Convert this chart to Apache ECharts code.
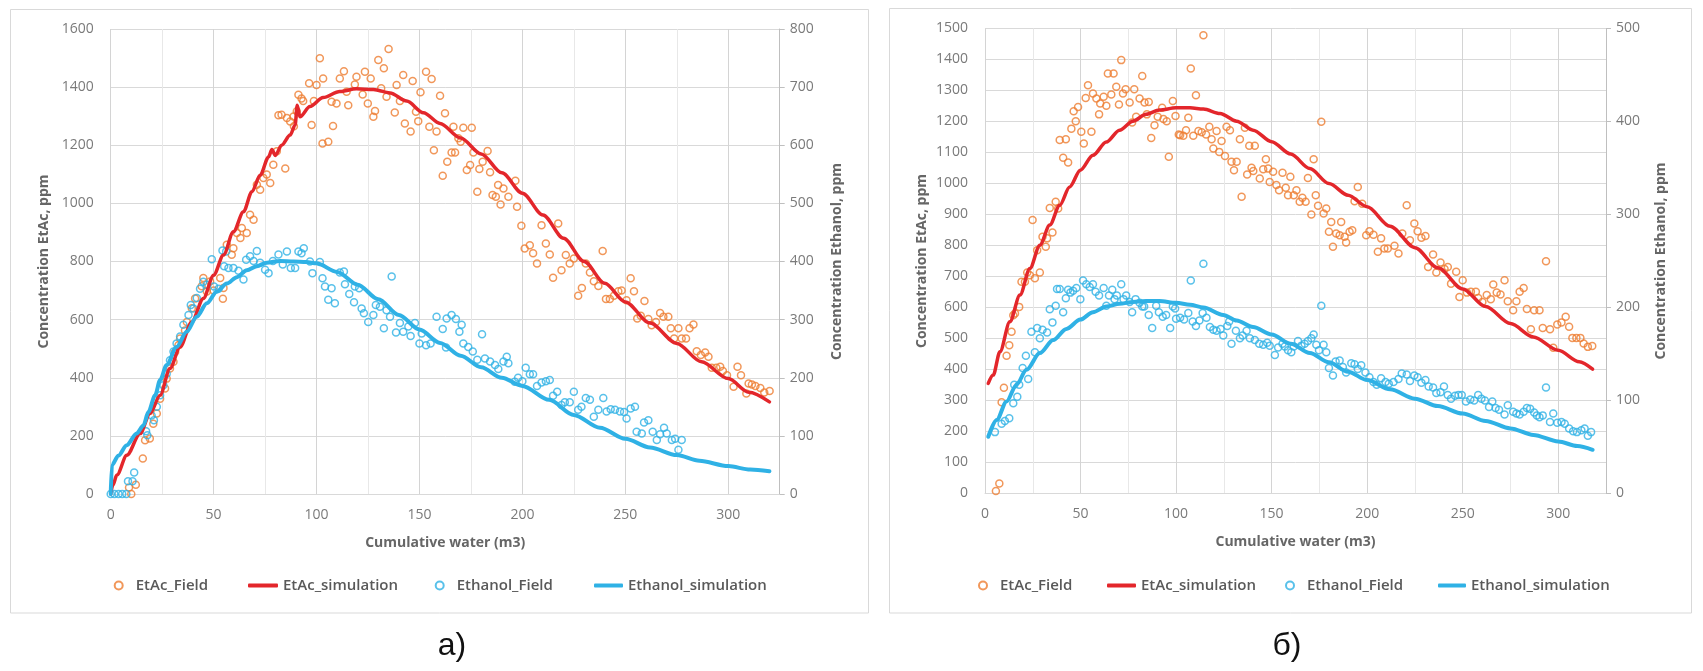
<!DOCTYPE html>
<html>
<head>
<meta charset="utf-8">
<script src="https://cdn.jsdelivr.net/npm/echarts@6/dist/echarts.min.js"></script>
<style>
  html, body { margin: 0; padding: 0; background: #fff; }
  #chart { width: 1703px; height: 671px; }
</style>
</head>
<body>
<div id="chart"></div>
<script>
// ── data: [cumulative water m3, concentration ppm] ──
// panel а: EtAc on left axis (0-1600), Ethanol on right axis (0-800)
var etacFieldA = [
  [10,0],[8.9,22],[12.2,32],[15.6,122],[16.7,185],[19,191],[20.7,242],[22.4,277],[24,328],[26.4,363],[27.2,397],
  [28.8,432],[30.5,455],[31.3,489],[32.9,512],[33.7,535],[36.1,563],[37,592],[39.4,639],[41,673],[44.2,715],
  [45,743],[46.7,697],[48.3,731],[50,700],[53.2,743],[54.5,672],[54.8,709],[56.4,858],[58.8,823],[59.6,846],
  [61.3,898],[63,881],[63.7,915],[66.1,898],[67.7,961],[69.4,944],[71,1064],[72.6,1047],[74.2,1087],[75.8,1099],
  [77.5,1070],[79,1133],[80.7,1179],[81.5,1303],[83,1305],[84.8,1120],[85.6,1294],[87.2,1282],[88.8,1299],
  [90.4,1317],[91.2,1374],[89,1265],[92.7,1361],[93.5,1352],[96.4,1413],[97.6,1270],[98.7,1352],[100,1407],
  [101.6,1499],[102.9,1206],[103.2,1430],[105.7,1212],[107.3,1350],[108,1266],[109.7,1344],[111.3,1430],
  [113.3,1455],[114.6,1384],[115.4,1338],[118.6,1409],[119.4,1436],[122.4,1375],[123.5,1453],[124.9,1344],
  [126.3,1430],[127.6,1298],[128.4,1318],[130,1493],[131.4,1396],[132.7,1465],[134,1367],[135,1531],[138,1313],
  [138.9,1407],[140.5,1352],[142.1,1442],[142.9,1275],[145.7,1247],[146.7,1421],[148.3,1315],[149.4,1283],
  [150.5,1382],[153.2,1453],[154.8,1264],[155.9,1428],[157,1183],[158.3,1247],[160,1370],[161.3,1095],
  [162.4,1310],[163.5,1143],[165.6,1175],[166.5,1264],[167.3,1175],[168.9,1224],[170,1212],[171.3,1260],
  [173,1115],[174.6,1132],[175.4,1260],[176.2,1175],[178.1,1040],[179.1,1118],[180.7,1143],[183.1,1180],
  [184.3,1107],[185.5,1029],[187.1,1023],[188.2,1063],[189.4,996],[190.8,1051],[193.2,1023],[196.6,1078],
  [197.4,988],[199.5,923],[201.1,845],[203.6,856],[205.2,828],[207.1,793],[209.3,925],[211.4,862],[213.3,824],
  [214.9,744],[217.4,931],[219,770],[221.1,822],[223,793],[225,810],[227.1,682],[228.9,709],[230.8,793],
  [232.8,762],[234.7,732],[236.9,716],[239,836],[240.6,671],[242.5,671],[244.5,682],[246.6,698],[248.2,700],
  [250.6,667],[252.6,742],[254.2,698],[255.8,604],[257.5,613],[259.3,664],[261.2,602],[262.8,581],[264.9,592],
  [266.9,623],[268.5,610],[270.9,610],[272.1,570],[273.7,535],[275.8,570],[277.4,535],[279.5,535],[281.2,570],
  [283.1,583],[284.7,491],[286.7,478],[288.8,487],[290.4,472],[292,434],[294.2,434],[296.1,438],[297.4,423],
  [299.4,409],[302.6,369],[304.5,438],[306.2,409],[308.8,346],[309.9,380],[311.5,377],[313.2,372],[315.6,365],
  [317.5,349],[320.1,354]
];
var etacSimA = [
  [0,0],[1,30],[3,65],[7.8,133],[14.3,208],[19.1,277],[24,340],[28.8,432],[33.7,506],[39.4,592],[45,673],
  [50,753],[54.8,822],[59.6,902],[64.5,971],[68.6,1040],[72.6,1097],[76.7,1160],[78.3,1185],[80,1165],
  [83,1200],[87.2,1235],[89.6,1270],[90.6,1338],[91.9,1298],[96.8,1333],[103.2,1364],[111.3,1385],
  [119.4,1394],[127.6,1392],[135.7,1380],[143.8,1352],[151.9,1312],[160,1275],[170,1225],[180,1170],
  [190,1105],[200,1035],[210,960],[220,880],[230,800],[240,725],[250,661],[262,588],[275,518],[287,455],
  [300,397],[310,350],[320,317]
];
var ethFieldA = [
  [0,0],[1.8,0],[3.8,0],[5.6,0],[7.6,0],[8.4,22],[10.6,22],[11.4,37],[17.2,108],[17.8,101],[19.9,135],
  [21,127],[22.4,150],[24,170],[25.6,187],[27.2,207],[28.8,230],[30.5,245],[32,259],[33.7,271],[35.3,291],
  [37.8,308],[38.9,325],[40.2,319],[41.8,337],[43.4,353],[45,365],[46.7,360],[49.1,404],[50.2,357],[52.4,353],
  [54.3,419],[55.1,392],[56.1,417],[57.2,389],[59.6,389],[62.1,384],[64.5,369],[65.8,403],[67.7,409],
  [69.4,401],[71,418],[72.6,398],[75,386],[76.7,380],[78.8,401],[81.5,412],[83.6,395],[85.6,417],[87.5,389],
  [89.6,389],[91.2,417],[92.7,414],[93.8,423],[96.8,400],[98,380],[101.6,399],[102.9,371],[104.1,357],
  [105.7,334],[107.3,354],[108.9,328],[111.3,381],[113.3,383],[113.8,361],[115.9,344],[118.2,330],[118.6,357],
  [120.7,354],[121.9,319],[123,311],[125.1,296],[127.6,308],[128.8,325],[130.8,322],[132.7,285],[134,316],
  [135.7,305],[136.5,374],[138.6,278],[140.5,294],[142.1,279],[144.6,288],[145.7,272],[147.8,294],[150,259],
  [151.1,276],[153.2,256],[155.4,259],[158.3,305],[161.3,284],[162.9,252],[163.2,302],[165.6,308],[167.7,301],
  [169.4,279],[170.5,291],[171.3,259],[173.7,253],[175.9,245],[178.1,231],[180.4,275],[181.8,233],[184.3,228],
  [186.7,222],[188.3,215],[190.8,228],[192.4,236],[193.2,225],[196.3,193],[197.9,200],[200,194],[201.6,217],
  [203.6,206],[205.2,206],[207.1,186],[209.3,192],[211.4,194],[213.3,196],[214.9,169],[216.9,176],[219,153],
  [220.6,158],[223,158],[225,176],[227.1,145],[228.7,150],[230.8,165],[232.8,162],[234.7,133],[236.9,145],
  [239.3,165],[240.9,142],[242.9,146],[245,145],[247.4,142],[249.4,141],[250.6,130],[252.6,147],[254.7,150],
  [255.5,107],[258,104],[259.1,123],[261.2,127],[263.3,107],[265.3,93],[266.9,103],[268.8,114],[270.1,104],
  [272.6,93],[274.2,95],[275.8,76],[277.4,93]
];
var ethSimA = [
  [0,0],[0.6,50],[3.7,66],[7.8,84],[12.6,104],[15.9,118],[18.3,141],[21.6,170],[24,196],[27.2,222],[32,253],
  [36.9,279],[41.8,305],[46.7,328],[51.5,348],[56.4,362],[61.3,373],[66.1,385],[71,392],[75.8,398],[82.3,401],
  [88.8,400],[95,399],[100,397],[110,382],[120,360],[130,335],[140,308],[150,283],[160,260],[170,238],
  [180,218],[190,200],[200,186],[213,162],[225,136],[237.7,114],[250,95],[262,80],[275,67],[286,57],[300,48],
  [310.7,42],[320,39]
];

// panel б: EtAc on left axis (0-1500), Ethanol on right axis (0-500)
var etacFieldB = [
  [5.7,8],[7.5,32],[8.7,294],[9.9,341],[11.3,444],[12.7,478],[13.9,522],[14.8,575],[15.7,581],[17.9,602],
  [19.1,683],[20.9,683],[22.1,713],[23.5,704],[24.9,882],[26.1,694],[27.3,785],[28.7,713],[30.1,828],
  [31.8,796],[32.5,823],[33.9,921],[35.3,842],[37,941],[38.3,919],[39.1,1140],[40.9,1083],[42.3,1143],
  [43.5,1068],[45.2,1177],[46.4,1233],[47.5,1201],[48.7,1247],[50.4,1167],[51.7,1129],[52.7,1276],[53.9,1317],
  [55.7,1167],[56.5,1290],[58.3,1274],[59.7,1223],[60.3,1258],[62.1,1280],[63.5,1251],[64.3,1355],[66.1,1287],
  [67.3,1355],[68.7,1312],[70.1,1255],[71.3,1398],[72.2,1290],[73.6,1304],[75.7,1261],[77,1197],[78.1,1304],
  [79.1,1215],[80.9,1274],[82.3,1347],[83.5,1261],[84.7,1223],[85.7,1263],[87,1147],[88.7,1188],[90.4,1215],
  [92.7,1244],[93.4,1208],[95.1,1201],[96.2,1086],[98.3,1266],[99.7,1218],[101.4,1158],[102.1,1156],
  [103.8,1154],[105.2,1172],[106.4,1212],[107.7,1371],[109,1154],[110.4,1285],[111.7,1169],[113.4,1165],
  [114.3,1478],[115.7,1158],[117.4,1183],[118.6,1143],[119.5,1113],[121.2,1169],[122.6,1102],[123.8,1137],
  [125.6,1089],[126.4,1183],[128.2,1172],[129,1070],[130.3,1043],[131.7,1070],[133.4,1143],[134.3,957],
  [136,1180],[137.2,1029],[138.3,1122],[139.5,1051],[140.4,1040],[141.2,1122],[143.8,1016],[145.6,1046],
  [147,1078],[148.2,1048],[149,1005],[150.8,1038],[152.5,995],[153.9,978],[155.7,1035],[157.4,986],[158.6,962],
  [159.8,1022],[161.6,962],[163,978],[164.7,941],[166.1,954],[167.8,941],[169,1018],[170.8,900],[172,1078],
  [173.1,962],[174.3,928],[176,1199],[177.2,903],[178.6,919],[180,844],[181.2,876],[182.1,796],[183.8,839],
  [185.6,833],[186.4,876],[188.2,828],[189,810],[190.8,844],[192.2,849],[193.4,943],[195.1,989],[197.4,935],
  [199.5,833],[201.2,846],[203.3,835],[205.6,780],[207.3,823],[209,790],[210.8,790],[214.3,799],[216.4,774],
  [218.4,839],[220.7,930],[222.4,817],[224.7,871],[226.4,846],[228.4,825],[230.5,831],[231.9,731],[234.5,771],
  [236.2,713],[238.4,745],[240.5,724],[242.2,731],[243.9,677],[246.6,715],[248.3,634],[250,688],[252.2,648],
  [254.3,651],[256.9,651],[258.1,631],[260.3,618],[262.6,640],[264.7,627],[266,674],[267.8,648],[269.8,642],
  [271.9,688],[273.6,620],[276.4,591],[278.1,620],[279.8,651],[281.9,663],[283.6,595],[285.7,530],[287.4,591],
  [290.2,591],[291.9,534],[293.6,749],[295.7,530],[297.4,470],[299.5,545],[301.7,552],[303.9,570],[305.7,538],
  [307.4,502],[309.5,502],[311.6,502],[313.3,484],[315.5,473],[317.8,476]
];
var etacSimB = [
  [1.7,355],[4.3,382],[7.8,457],[13,554],[18.3,640],[23.5,726],[28.7,801],[33.9,866],[39.1,930],[44.3,989],
  [49.9,1043],[56.5,1091],[63.5,1134],[70.4,1172],[77.4,1201],[84.3,1223],[91.3,1237],[100,1244],[107.3,1244],
  [114.3,1240],[123,1226],[131.7,1201],[140.3,1172],[150,1135],[160,1095],[170,1048],[180,1000],[190,962],
  [200,925],[212,862],[225,793],[237,728],[250,660],[262,603],[275,548],[287,505],[300,462],[311,425],[318,401]
];
var ethFieldB = [
  [5.2,66],[8.7,75],[10.4,78],[12.7,81],[14.8,97],[16.9,104],[15.3,117],[17.9,117],[19.7,135],[21.4,148],
  [22.6,123],[24.3,174],[26.1,152],[27.3,178],[28.7,167],[30.1,176],[32.5,173],[33.9,198],[35.3,184],[37,202],
  [37.7,220],[39.1,220],[40.9,195],[42.3,210],[43.5,219],[44.7,216],[46.1,218],[47.8,221],[49.9,209],[51.3,229],
  [53,225],[54.8,222],[56.5,225],[57.9,217],[59.7,213],[62.1,221],[63.5,202],[64.9,213],[66.6,219],[67.8,209],
  [69,213],[71.3,225],[72.5,209],[73.9,213],[75.7,206],[77,195],[78.8,209],[80.9,205],[82.3,201],[83.3,201],
  [85.7,192],[87.5,178],[89.6,202],[91,195],[93,190],[94.8,192],[96.9,178],[98.3,201],[99.5,199],[100,188],
  [102.1,189],[104.2,187],[106.4,194],[107.7,229],[108.7,185],[110.4,180],[112.2,186],[113.9,194],[114.3,247],
  [115.9,189],[117.7,179],[119.5,176],[121.2,175],[123.3,177],[124.7,170],[126.8,180],[127.8,185],[129,161],
  [131.3,175],[133.4,167],[134.8,170],[136.9,175],[138.6,167],[141.2,165],[143.5,161],[145.6,160],[147.7,162],
  [149,159],[151.7,149],[153.4,157],[155.7,161],[156.9,158],[158.6,154],[160.3,152],[161.6,158],[163.8,164],
  [165.6,159],[167.3,161],[169,164],[170.8,167],[172,171],[173.4,160],[174.8,154],[176,202],[177.2,160],
  [178.6,152],[180,135],[182.1,127],[183.5,142],[185.6,143],[187.3,136],[189,130],[191.7,140],[193.4,139],
  [195.1,134],[196.9,138],[199.1,130],[201.2,125],[203.3,120],[205,117],[207.3,124],[209.6,120],[211.3,118],
  [213.8,120],[216.4,123],[218.1,129],[220.7,128],[222.4,121],[224.7,127],[226.4,125],[228.4,119],[230.5,122],
  [232.2,115],[234.5,114],[236.2,108],[238.4,109],[240.2,115],[242.2,106],[243.9,102],[246,105],[247.8,106],
  [249.5,106],[251.7,99],[254,101],[256,100],[258.1,106],[259.8,102],[261.6,100],[263.8,93],[265.5,99],
  [267.2,92],[269,90],[271.9,85],[273.6,95],[276.4,88],[278.1,86],[279.8,85],[281.9,88],[283.6,92],[285.3,91],
  [287.4,87],[288.8,84],[290.2,82],[291.9,84],[293.6,114],[295.7,77],[297.4,86],[299.5,76],[301.7,77],
  [303.4,75],[305.7,70],[307.8,67],[309.8,66],[312.1,68],[313.8,70],[315.5,62],[317.2,66]
];
var ethSimB = [
  [1.7,61],[6.1,79],[11.3,99],[16.5,117],[21.7,133],[28.7,151],[35.7,165],[42.6,177],[49.9,187],[56.5,195],
  [63.5,201],[70.4,204],[77.4,206],[84.3,207],[91.3,207],[100,205],[107.3,203],[114.3,200],[124.7,192],
  [131.7,186],[140.3,179],[150,171],[160,161],[170,151],[180,141],[190,131],[200,122],[212,112],[225,102],
  [237,94],[250,86],[262,78],[275,70],[287,63],[300,56],[310,51],[318,47]
];

// axis ranges [min, max, step]
var xRange = [0, 325, 25];
var leftRangeA = [0, 1600, 200];
var rightRangeA = [0, 800, 100];
var leftRangeB = [0, 1500, 100];
var rightRangeB = [0, 500, 100];

var names = ['EtAc_Field', 'EtAc_simulation', 'Ethanol_Field', 'Ethanol_simulation'];
var panelLabels = ['а)', 'б)'];
var xTitle = 'Cumulative water (m3)';
var leftTitle = 'Concentration EtAc, ppm';
var rightTitle = 'Concentration Ethanol, ppm';

(function() {
  var orange = '#ED7D31';
  var red = '#E3262B';
  var blue = '#2FB1E5';
  var grid = '#D9D9D9';
  var tickColor = '#7A7A7A';
  var titleColor = '#666666';
  var font = '"Open Sans", sans-serif';
  var plain = function(v) { return String(v); };

  var chart = echarts.init(document.getElementById('chart'), null, { renderer: 'canvas' });

  function xAxis(gi) {
    return {
      gridIndex: gi, type: 'value',
      min: xRange[0], max: xRange[1], interval: xRange[2],
      name: xTitle, nameLocation: 'middle', nameGap: 42,
      nameTextStyle: { color: titleColor, fontSize: 14, fontWeight: 'bold', fontFamily: font },
      axisLine: { show: true, lineStyle: { color: grid } },
      axisTick: { show: false },
      axisLabel: {
        color: tickColor, fontSize: 14, fontFamily: font, margin: 14,
        formatter: function(v) { return v % 50 === 0 ? String(v) : ''; }
      },
      splitLine: { show: true, lineStyle: { color: ['#D4D4D4', '#E8E8E8'], width: 1 } }
    };
  }

  function leftAxis(gi, r, gap) {
    return {
      gridIndex: gi, type: 'value', position: 'left',
      min: r[0], max: r[1], interval: r[2],
      name: leftTitle, nameLocation: 'middle', nameGap: gap,
      nameTextStyle: { color: titleColor, fontSize: 14, fontWeight: 'bold', fontFamily: font },
      axisLine: { show: false }, axisTick: { show: false },
      axisLabel: { color: tickColor, fontSize: 14, fontFamily: font, margin: 17, formatter: plain },
      splitLine: { show: true, lineStyle: { color: grid } }
    };
  }

  function rightAxis(gi, r, gap) {
    return {
      gridIndex: gi, type: 'value', position: 'right',
      min: r[0], max: r[1], interval: r[2],
      name: rightTitle, nameLocation: 'middle', nameGap: gap, nameRotate: 90,
      nameTextStyle: { color: titleColor, fontSize: 14, fontWeight: 'bold', fontFamily: font },
      axisLine: { show: true, lineStyle: { color: '#BFBFBF' } },
      axisTick: { show: true, inside: false, length: 5, lineStyle: { color: '#BFBFBF' } },
      axisLabel: { color: tickColor, fontSize: 14, fontFamily: font, margin: 10, formatter: plain },
      splitLine: { show: false }
    };
  }

  function field(name, data, xi, yi, color) {
    return {
      name: name, type: 'scatter', xAxisIndex: xi, yAxisIndex: yi, data: data,
      symbol: 'circle', symbolSize: 7,
      itemStyle: { color: 'rgba(255,255,255,0)', borderColor: color, borderWidth: 1.5 },
      emphasis: { disabled: true }
    };
  }

  function sim(name, data, xi, yi, color, w) {
    return {
      name: name, type: 'line', xAxisIndex: xi, yAxisIndex: yi, data: data,
      symbol: 'none', smooth: 0.3, smoothMonotone: 'x',
      lineStyle: { color: color, width: w, cap: 'round', join: 'round' },
      itemStyle: { color: color },
      emphasis: { disabled: true }
    };
  }

  // one legend per entry so each sits where Excel put it
  var legendText = { color: '#595959', fontSize: 15, fontWeight: 600, fontFamily: font };
  function legendDot(name, left) {
    return {
      data: [name], left: left, top: 578, itemWidth: 24, itemHeight: 8,
      selectedMode: false, padding: 0, textStyle: legendText
    };
  }
  function legendLine(name, left, w, color) {
    return {
      data: [{ name: name, icon: 'roundRect', itemStyle: { color: color, borderWidth: 0 } }],
      left: left, top: 578, itemWidth: w, itemHeight: 4,
      selectedMode: false, padding: 0, textStyle: legendText
    };
  }

  chart.setOption({
    animation: false,
    backgroundColor: '#ffffff',
    grid: [
      { left: 110.7, top: 29, width: 669, height: 465 },
      { left: 985, top: 28.5, width: 621, height: 465 }
    ],
    xAxis: [xAxis(0), xAxis(1)],
    yAxis: [
      leftAxis(0, leftRangeA, 60), rightAxis(0, rightRangeA, 50),
      leftAxis(1, leftRangeB, 56), rightAxis(1, rightRangeB, 48)
    ],
    legend: [
      legendDot(names[0], 113.7), legendLine(names[1], 248, 30, red),
      legendDot(names[2], 434.7), legendLine(names[3], 594, 29, blue),
      legendDot(names[0], 978), legendLine(names[1], 1107, 29, red),
      legendDot(names[2], 1285), legendLine(names[3], 1438, 28, blue)
    ],
    series: [
      field(names[0], etacFieldA, 0, 0, orange),
      sim(names[1], etacSimA, 0, 0, red, 3.5),
      field(names[2], ethFieldA, 0, 1, blue),
      sim(names[3], ethSimA, 0, 1, blue, 4),
      field(names[0], etacFieldB, 1, 2, orange),
      sim(names[1], etacSimB, 1, 2, red, 3.5),
      field(names[2], ethFieldB, 1, 3, blue),
      sim(names[3], ethSimB, 1, 3, blue, 4)
    ],
    graphic: [
      { type: 'rect', shape: { x: 10.5, y: 9.5, width: 858, height: 603.5 },
        style: { fill: 'none', stroke: '#D9D9D9', lineWidth: 1 }, silent: true },
      { type: 'rect', shape: { x: 889.5, y: 8.5, width: 802, height: 604.5 },
        style: { fill: 'none', stroke: '#D9D9D9', lineWidth: 1 }, silent: true },
      { type: 'text', x: 452, y: 646, silent: true,
        style: { text: panelLabels[0], fill: '#111', font: '32px "Liberation Sans", Arial, sans-serif',
                 textAlign: 'center', textVerticalAlign: 'middle' } },
      { type: 'text', x: 1287, y: 646, silent: true,
        style: { text: panelLabels[1], fill: '#111', font: '32px "Liberation Sans", Arial, sans-serif',
                 textAlign: 'center', textVerticalAlign: 'middle' } }
    ]
  });
  window.addEventListener('resize', function() { chart.resize(); });
})();
</script>
</body>
</html>
